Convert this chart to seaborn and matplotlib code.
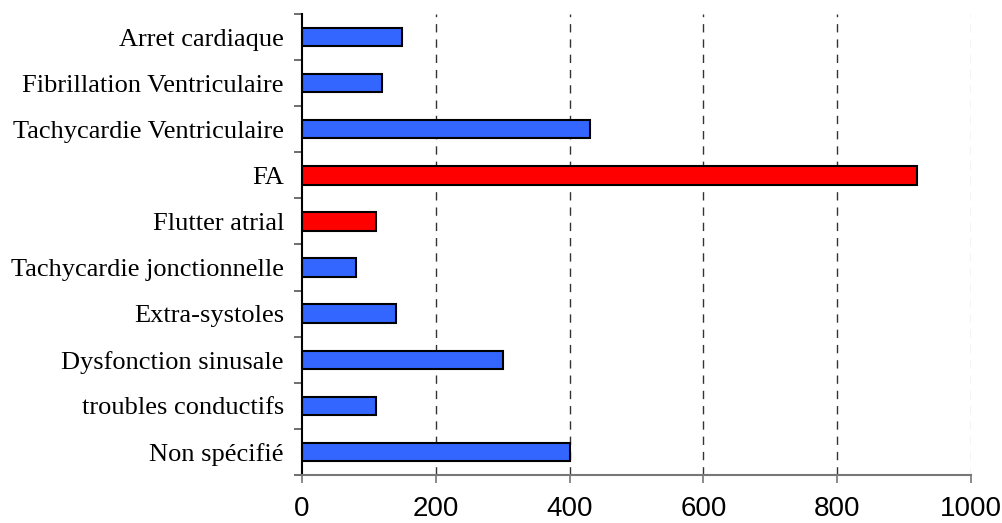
import matplotlib
matplotlib.use("Agg")
import matplotlib.pyplot as plt
from matplotlib.ticker import FixedLocator
import seaborn as sns
import pandas as pd

categories = [
    "Arret cardiaque",
    "Fibrillation Ventriculaire",
    "Tachycardie Ventriculaire",
    "FA",
    "Flutter atrial",
    "Tachycardie jonctionnelle",
    "Extra-systoles",
    "Dysfonction sinusale",
    "troubles conductifs",
    "Non spécifié",
]
counts = [150, 120, 430, 920, 110, 80, 140, 300, 110, 400]
groups = ["autre", "autre", "autre", "atrial", "atrial",
          "autre", "autre", "autre", "autre", "autre"]
x_ticks = [0, 200, 400, 600, 800, 1000]

palette = {"autre": "#3366FF", "atrial": "#FF0000"}

df = pd.DataFrame({"categorie": categories, "n": counts, "groupe": groups})

sns.set_theme(style="white")
fig = plt.figure(figsize=(10.02, 5.23), dpi=100)
ax = fig.add_axes([302 / 1002, 1 - 475 / 523, (971 - 302) / 1002, (475 - 14) / 523])

sns.barplot(data=df, y="categorie", x="n", hue="groupe", palette=palette,
            order=categories, orient="h", dodge=False, legend=False,
            width=0.4, edgecolor="black", linewidth=1.5, saturation=1, ax=ax)

ax.set_xlim(0, 1000)
ax.set_ylim(len(categories) - 0.5, -0.5)
ax.set_xticks(x_ticks)
ax.set_xticklabels([str(v) for v in x_ticks], family="Liberation Sans",
                   fontsize=20, color="black")
ax.set_yticks(range(len(categories)))
ax.set_yticklabels(categories, family="Liberation Serif", fontsize=19, color="black")
ax.set_xlabel("")
ax.set_ylabel("")

# category separators on the value axis
ax.yaxis.set_minor_locator(FixedLocator([i - 0.5 for i in range(len(categories) + 1)]))
ax.tick_params(axis="y", which="major", length=0, pad=13)
ax.tick_params(axis="y", which="minor", left=True, length=6, width=1.2, color="#555555")
ax.tick_params(axis="x", which="major", bottom=True, length=6, width=1.2,
               color="#777777", pad=9)

ax.grid(False)
for v in x_ticks[1:]:
    ax.axvline(v, color="#999999" if v == 1000 else "#333333",
               linestyle=(0, (6, 5)), linewidth=1.0, alpha=0.6 if v == 1000 else 1.0,
               zorder=0)

for side in ("top", "right"):
    ax.spines[side].set_visible(False)
ax.spines["left"].set_color("black")
ax.spines["left"].set_linewidth(1.5)
ax.spines["bottom"].set_color("#777777")
ax.spines["bottom"].set_linewidth(1.5)

fig.savefig("out.png", dpi=100)
